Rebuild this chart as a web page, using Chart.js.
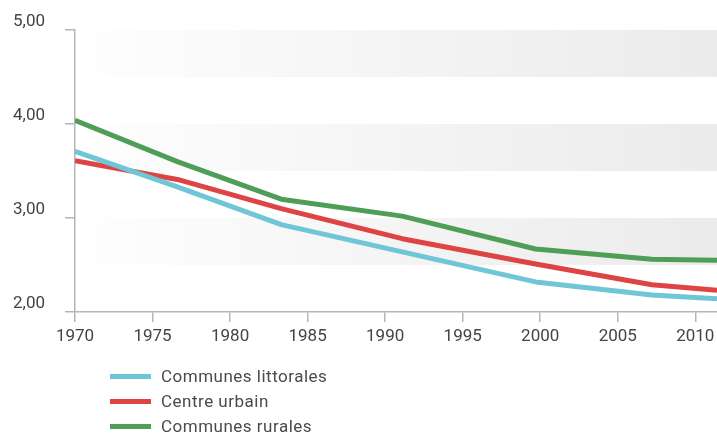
<!DOCTYPE html>
<html>
<head>
<meta charset="utf-8">
<script src="https://cdn.jsdelivr.net/npm/chart.js@4"></script>
<style>
  html, body { margin: 0; padding: 0; background: #fff; overflow: hidden; }
  #wrap { position: relative; width: 717px; height: 434px; }
  #legende { position: absolute; left: 110px; top: 364px; font-family: Roboto, sans-serif; font-size: 17px; color: #4a4a4a; letter-spacing: 0.5px; }
  #legende div { height: 25px; line-height: 25px; display: flex; align-items: center; }
  #legende span.trait { display: inline-block; width: 41px; height: 5px; margin-right: 10px; }
</style>
</head>
<body>
<div id="wrap">
  <canvas id="graphique" width="717" height="434"></canvas>
  <div id="legende"></div>
</div>
<script>
// Années (positions)
const annees = [1970, 1976.6, 1983.3, 1991.1, 1999.7, 2007.2, 2011.4];

const littorales = [3.71, 3.33, 2.93, 2.64, 2.32, 2.18, 2.14];
const urbain = [3.61, 3.41, 3.10, 2.78, 2.51, 2.29, 2.23];
const rurales = [4.04, 3.60, 3.20, 3.02, 2.67, 2.56, 2.55];

const series = ['Communes littorales', 'Centre urbain', 'Communes rurales'];
const couleurs = ['#6ec6d6', '#de4444', '#4e9e57'];

const ticksX = [1970, 1975, 1980, 1985, 1990, 1995, 2000, 2005, 2010];
const ticksY = [2, 3, 4, 5];
const bandes = [[2.5, 3], [3.5, 4], [4.5, 5]];

const gris = '#b5b5b5';
const police = { family: 'Roboto, sans-serif', size: 17 };

// Bandes grises en dégradé derrière les courbes
const pluginBandes = {
  id: 'bandes',
  beforeDatasetsDraw(chart) {
    const { ctx, chartArea, scales } = chart;
    const grad = ctx.createLinearGradient(chartArea.left, 0, chartArea.right, 0);
    grad.addColorStop(0, '#ffffff');
    grad.addColorStop(0.1, '#fcfcfc');
    grad.addColorStop(1, '#ebebeb');
    ctx.save();
    ctx.fillStyle = grad;
    bandes.forEach(([bas, haut]) => {
      const y1 = scales.y.getPixelForValue(haut);
      const y2 = scales.y.getPixelForValue(bas);
      ctx.fillRect(chartArea.left + 1, y1, chartArea.right - chartArea.left, y2 - y1);
    });
    ctx.restore();
  }
};

function serie(valeurs) {
  return valeurs.map((v, i) => ({ x: annees[i], y: v }));
}

const donnees = [littorales, urbain, rurales];

new Chart(document.getElementById('graphique'), {
  type: 'line',
  data: {
    datasets: series.map((nom, i) => ({
      label: nom,
      data: serie(donnees[i]),
      borderColor: couleurs[i],
      backgroundColor: couleurs[i],
      borderWidth: 5,
      pointRadius: 0,
      tension: 0,
      borderJoinStyle: 'round'
    }))
  },
  options: {
    responsive: false,
    animation: false,
    layout: { padding: { top: 30, right: 0, bottom: 82, left: 0 } },
    plugins: { legend: { display: false }, tooltip: { enabled: false } },
    scales: {
      x: {
        type: 'linear',
        min: 1970,
        max: 2011.4,
        afterBuildTicks: s => { s.ticks = ticksX.map(v => ({ value: v })); },
        afterFit: s => { s.height = 40; s.paddingLeft = 0; s.paddingRight = 0; },
        ticks: { font: police, color: '#444', padding: 5, maxRotation: 0, callback: v => String(v) },
        grid: { drawOnChartArea: false, color: gris, tickLength: 10, lineWidth: 1.5 },
        border: { color: gris, width: 1.5 }
      },
      y: {
        min: 2,
        max: 5,
        afterBuildTicks: s => { s.ticks = ticksY.map(v => ({ value: v })); },
        afterFit: s => { s.width = 75; s.paddingTop = 0; s.paddingBottom = 0; },
        ticks: {
          font: police, color: '#444', padding: 20, labelOffset: -8,
          callback: v => v.toFixed(2).replace('.', ',')
        },
        grid: { drawOnChartArea: false, color: gris, tickLength: 10, lineWidth: 1.5 },
        border: { color: gris, width: 1.5 }
      }
    }
  },
  plugins: [pluginBandes]
});

// Légende verticale
document.getElementById('legende').innerHTML = series.map((nom, i) =>
  `<div><span class="trait" style="background:${couleurs[i]}"></span>${nom}</div>`
).join('');
</script>
</body>
</html>
